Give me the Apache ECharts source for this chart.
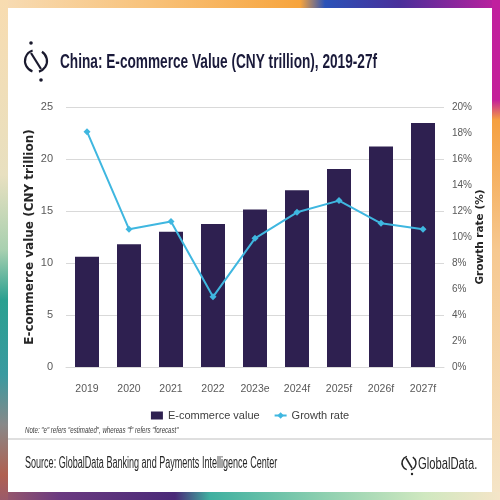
<!DOCTYPE html>
<html>
<head>
<meta charset="utf-8">
<script src="https://cdn.jsdelivr.net/npm/echarts@6/dist/echarts.min.js"></script>
<style>html,body{margin:0;padding:0;background:#fff}#c{width:500px;height:500px}</style>
</head>
<body>
<div id="c"></div>
<script>
const categories = ['2019','2020','2021','2022','2023e','2024f','2025f','2026f','2027f'];
const ecommerceValue = [10.6, 11.8, 13.0, 13.75, 15.15, 17.0, 19.05, 21.2, 23.45];
const growthRate = [18.1, 10.6, 11.2, 5.4, 9.9, 11.9, 12.8, 11.05, 10.6];
const titleText = 'China: E-commerce Value (CNY trillion), 2019-27f';
const noteText = 'Note: "e" refers "estimated", whereas "f" refers "forecast"';
const sourceText = 'Source: GlobalData Banking and Payments Intelligence Center';

const SANS = '"Liberation Sans", Arial, sans-serif';
const chart = echarts.init(document.getElementById('c'));

function lg(x1,y1,x2,y2,stops){return new echarts.graphic.LinearGradient(x1,y1,x2,y2,stops.map(s=>({offset:s[0],color:s[1]})));}

const option = {
  backgroundColor: '#ffffff',
  animation: false,
  grid: {left: 66, right: 56, top: 107, bottom: 133},
  legend: {
    top: 405, left: 'center',
    itemGap: 14,
    textStyle: {fontFamily: SANS, fontSize: 11, color: '#404040'},
    data: [
      {name: 'E-commerce value', icon: 'rect', itemStyle: {color: '#2e2050'}},
      {name: 'Growth rate'}
    ],
    itemWidth: 12, itemHeight: 8
  },
  xAxis: {
    type: 'category', data: categories,
    axisLine: {lineStyle: {color: '#d9d9d9'}},
    axisTick: {show: false},
    axisLabel: {fontFamily: SANS, fontSize: 10.5, color: '#595959', margin: 17, interval: 0}
  },
  yAxis: [
    {type: 'value', min: 0, max: 25, interval: 5,
     name: 'E-commerce value (CNY trillion)', nameLocation: 'middle', nameGap: 30, nameMoveOverlap: false,
     nameTextStyle: {fontFamily: 'DejaVu Sans', fontWeight: 'bold', fontSize: 12, color: '#262626'},
     axisLabel: {fontFamily: SANS, fontSize: 11, color: '#595959', margin: 13},
     splitLine: {lineStyle: {color: '#d9d9d9'}}},
    {type: 'value', min: 0, max: 20, interval: 2, position: 'right',
     name: 'Growth rate (%)', nameLocation: 'middle', nameGap: 31, nameRotate: 90, nameMoveOverlap: false,
     nameTextStyle: {fontFamily: 'DejaVu Sans', fontWeight: 'bold', fontSize: 10.5, color: '#262626'},
     axisLabel: {fontFamily: SANS, fontSize: 10, color: '#595959', margin: 8, formatter: '{value}%'},
     splitLine: {show: false}}
  ],
  series: [
    {name: 'E-commerce value', type: 'bar', data: ecommerceValue, barWidth: 24,
     itemStyle: {color: '#2e2050'}},
    {name: 'Growth rate', type: 'line', yAxisIndex: 1, data: growthRate,
     symbol: 'diamond', symbolSize: 7,
     lineStyle: {color: '#3fb7e0', width: 2},
     itemStyle: {color: '#3fb7e0'}}
  ],
  graphic: [
    // colourful frame
    {type: 'rect', shape: {x: 0, y: 0, width: 500, height: 8}, style: {fill: lg(0,0,1,0,[[0,'#f7dcb5'],[0.3,'#f8c27a'],[0.6,'#f7a43c'],[0.65,'#2a52b8'],[0.8,'#4a2f9a'],[1,'#c0209e']])}},
    {type: 'rect', shape: {x: 492, y: 0, width: 8, height: 500}, style: {fill: lg(0,0,0,1,[[0,'#c0209e'],[0.2,'#c4209a'],[0.24,'#f5a040'],[0.5,'#f6c890'],[1,'#f5e5c8']])}},
    {type: 'rect', shape: {x: 0, y: 492, width: 500, height: 8}, style: {fill: lg(0,0,1,0,[[0,'#9a5a6a'],[0.12,'#6a3a80'],[0.35,'#4a2a78'],[0.42,'#3fb0a0'],[0.65,'#8fd0b0'],[0.85,'#d0e8c0'],[1,'#f5e5c8']])}},
    {type: 'rect', shape: {x: 0, y: 0, width: 8, height: 500}, style: {fill: lg(0,0,0,1,[[0,'#f8dcb0'],[0.35,'#e8e0c0'],[0.5,'#a8d0b0'],[0.6,'#2aa090'],[0.75,'#3a9aa0'],[0.85,'#888888'],[0.95,'#b06050'],[1,'#9a5a6a']])}},
    // title logo
    {type: 'arc', shape: {cx: 36, cy: 61, r: 11, startAngle: 1.9, endAngle: 4.4}, style: {stroke: '#1a1a2e', lineWidth: 2.2, fill: null}},
    {type: 'arc', shape: {cx: 36, cy: 61, r: 11, startAngle: -1.0, endAngle: 1.3}, style: {stroke: '#1a1a2e', lineWidth: 2.2, fill: null}},
    {type: 'line', shape: {x1: 31, y1: 53, x2: 41, y2: 69}, style: {stroke: '#1a1a2e', lineWidth: 2.2}},
    {type: 'circle', shape: {cx: 31, cy: 43, r: 1.8}, style: {fill: '#1a1a2e'}},
    {type: 'circle', shape: {cx: 41, cy: 80, r: 1.8}, style: {fill: '#1a1a2e'}},
    // title
    {type: 'text', x: 60, y: 62, scaleX: 0.65, style: {text: titleText, font: 'bold 21px ' + SANS, fill: '#1a1a3a', textVerticalAlign: 'middle'}},
    // note
    {type: 'text', x: 25, y: 426, scaleX: 0.72, style: {text: noteText, font: 'italic 8.5px ' + SANS, fill: '#404040'}},
    {type: 'line', shape: {x1: 8, y1: 439, x2: 492, y2: 439}, style: {stroke: '#bfbfbf', lineWidth: 1}},
    // source
    {type: 'text', x: 25, y: 464, scaleX: 0.565, style: {text: sourceText, font: '16px ' + SANS, fill: '#262626', textVerticalAlign: 'middle'}},
    // GlobalData logo
    {type: 'arc', shape: {cx: 409, cy: 463, r: 7, startAngle: 1.9, endAngle: 4.4}, style: {stroke: '#262626', lineWidth: 1.5, fill: null}},
    {type: 'arc', shape: {cx: 409, cy: 463, r: 7, startAngle: -1.0, endAngle: 1.3}, style: {stroke: '#262626', lineWidth: 1.5, fill: null}},
    {type: 'line', shape: {x1: 406, y1: 458, x2: 412, y2: 468}, style: {stroke: '#262626', lineWidth: 1.5}},
    {type: 'circle', shape: {cx: 412, cy: 474, r: 1.2}, style: {fill: '#262626'}},
    {type: 'text', x: 418, y: 464, scaleX: 0.66, style: {text: 'GlobalData.', font: '17px ' + SANS, fill: '#262626', textVerticalAlign: 'middle'}}
  ]
};
chart.setOption(option);
</script>
</body>
</html>
